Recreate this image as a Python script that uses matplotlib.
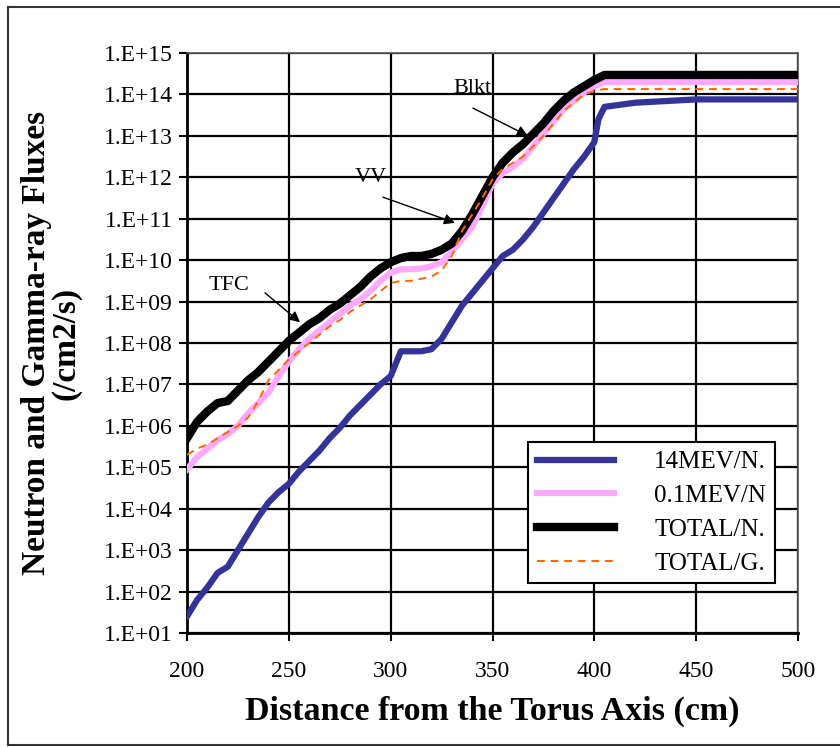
import numpy as np
import matplotlib
matplotlib.use("Agg")
import matplotlib.pyplot as plt
from matplotlib.ticker import FixedLocator, FuncFormatter
from matplotlib.lines import Line2D

plt.rcParams['font.family'] = ['Liberation Serif', 'DejaVu Serif']

# distance from torus axis (cm) and log10 of flux
x_blue = [200, 205, 210, 215, 220, 225, 230, 235, 240, 245, 250, 255, 260, 265, 270,
          275, 280, 285, 290, 295, 300, 305, 310, 315, 320, 325, 330, 335, 340, 345,
          350, 355, 360, 365, 370, 375, 380, 385, 390, 395, 400, 402, 405, 420, 450, 500]
lg_14mev = [1.4, 1.8, 2.1, 2.45, 2.6, 3.0, 3.4, 3.8, 4.15, 4.4, 4.6, 4.9, 5.15, 5.4, 5.7,
            5.95, 6.25, 6.5, 6.75, 7.0, 7.2, 7.8, 7.8, 7.8, 7.85, 8.1, 8.5, 8.9, 9.2, 9.5,
            9.8, 10.1, 10.25, 10.5, 10.8, 11.15, 11.5, 11.85, 12.2, 12.5, 12.85, 13.4, 13.7, 13.8, 13.88, 13.88]

x_tot = [200, 205, 210, 215, 220, 225, 230, 235, 240, 245, 250, 255, 260, 265, 270,
         275, 280, 285, 290, 295, 300, 305, 310, 315, 320, 325, 330, 335, 340, 345,
         350, 355, 360, 365, 370, 375, 380, 385, 390, 395, 400, 405, 500]
lg_total_n = [5.7, 6.1, 6.35, 6.55, 6.6, 6.85, 7.1, 7.3, 7.55, 7.8, 8.05, 8.25, 8.45, 8.6, 8.8,
              8.95, 9.15, 9.35, 9.6, 9.8, 9.95, 10.05, 10.1, 10.1, 10.15, 10.25, 10.4, 10.7, 11.1, 11.55,
              12.0, 12.35, 12.6, 12.8, 13.05, 13.3, 13.6, 13.85, 14.05, 14.2, 14.35, 14.47, 14.47]
lg_01mev = [4.95, 5.25, 5.45, 5.65, 5.8, 6.0, 6.3, 6.55, 6.8, 7.2, 7.55, 7.85, 8.1, 8.3, 8.5,
            8.7, 8.9, 9.05, 9.25, 9.5, 9.7, 9.78, 9.78, 9.8, 9.85, 9.95, 10.2, 10.5, 10.8, 11.3,
            11.85, 12.1, 12.25, 12.45, 12.75, 13.05, 13.35, 13.65, 13.85, 14.05, 14.2, 14.3, 14.3]
lg_total_g = [5.3, 5.45, 5.55, 5.7, 5.85, 6.0, 6.2, 6.6, 7.1, 7.35, 7.6, 7.8, 8.0, 8.2, 8.4,
              8.55, 8.75, 8.9, 9.05, 9.25, 9.45, 9.5, 9.5, 9.55, 9.6, 9.75, 10.1, 10.7, 11.1, 11.5,
              11.95, 12.2, 12.35, 12.5, 12.75, 13.0, 13.3, 13.6, 13.8, 14.0, 14.08, 14.13, 14.13]

x_ticks = [200, 250, 300, 350, 400, 450, 500]
y_exps = list(range(1, 16))

# region labels: (text, label x, label log10, tail x, tail log10, head x, head log10)
notes = [
    ('TFC', 220.6, 9.4, 238.3, 9.21, 255.5, 8.5),
    ('VV', 290.3, 12.0, 296.2, 11.52, 331.6, 10.9),
    ('Blkt', 340.0, 14.15, 340.4, 13.67, 367.4, 13.0),
]

fig = plt.figure(figsize=(8.4, 7.47), dpi=100)
ax = fig.add_axes([187/840, 1-633/747, 611/840, 580/747])

ax.plot(x_blue, 10.0**np.array(lg_14mev), color='#333399', lw=4.5, label='14MEV/N.', zorder=3)
ax.plot(x_tot, 10.0**np.array(lg_01mev), color='#FFA8FF', lw=4.5, label='0.1MEV/N', zorder=3)
ax.plot(x_tot, 10.0**np.array(lg_total_n), color='black', lw=6, label='TOTAL/N.', zorder=4)
ax.plot(x_tot, 10.0**np.array(lg_total_g), color='#FF6600', lw=1.4, ls=(0, (4, 3)),
        label='TOTAL/G.', zorder=5)

ax.set_yscale('log')
ax.set_xlim(200, 500)
ax.set_ylim(10, 1e15)
ax.xaxis.set_major_locator(FixedLocator(x_ticks))
ax.yaxis.set_major_locator(FixedLocator([10.0**e for e in y_exps]))
ax.yaxis.set_minor_locator(FixedLocator([]))
ax.yaxis.set_major_formatter(FuncFormatter(lambda v, p: "1.E+%02d" % int(round(np.log10(v)))))
ax.tick_params(axis='both', labelsize=17, direction='out', length=6, width=1.5, colors='black')
ax.tick_params(axis='x', pad=14)
ax.tick_params(axis='y', pad=4)
ax.grid(True, color='black', lw=1.6)
for s in ax.spines.values():
    s.set_color('#555555')
    s.set_linewidth(1.2)
ax.spines['left'].set_color('black')
ax.spines['bottom'].set_color('black')
ax.spines['left'].set_linewidth(2)
ax.spines['bottom'].set_linewidth(2)

ax.set_xlabel("Distance from the Torus Axis (cm)", fontsize=24.5, fontweight='bold', labelpad=10)
ax.set_ylabel("Neutron and Gamma-ray Fluxes\n(/cm2/s)", fontsize=24, fontweight='bold',
              labelpad=16, linespacing=0.95)

for txt, tx, ty, ax0, ay0, hx, hy in notes:
    ax.text(tx, 10**ty, txt, fontsize=16, ha='center', va='center', zorder=6)
    ax.annotate('', xy=(hx, 10**hy), xytext=(ax0, 10**ay0),
                arrowprops=dict(arrowstyle='-|>', color='black', lw=1.0,
                                mutation_scale=16, shrinkA=0, shrinkB=0), zorder=6)

leg = ax.legend(loc='upper left', bbox_to_anchor=((528-187)/611, (633-442)/580),
                fontsize=18, frameon=True, fancybox=False, framealpha=1,
                edgecolor='black', handlelength=3.1, handletextpad=1.6,
                labelspacing=0.45, borderpad=0.35, borderaxespad=0)
leg.get_frame().set_linewidth(1.5)
leg.set_zorder(10)
for t in leg.get_texts():
    t.set_ha('right')
leg._legend_box.align = 'right'

# outer frame of the picture
fig.add_artist(Line2D([8/840, 8/840], [2/747, 740/747], color='#333333', lw=1.5))
fig.add_artist(Line2D([8/840, 1.0], [740/747, 740/747], color='#333333', lw=1.5))
fig.add_artist(Line2D([8/840, 1.0], [2/747, 2/747], color='#333333', lw=1.5))

fig.savefig('out.png', dpi=100)
